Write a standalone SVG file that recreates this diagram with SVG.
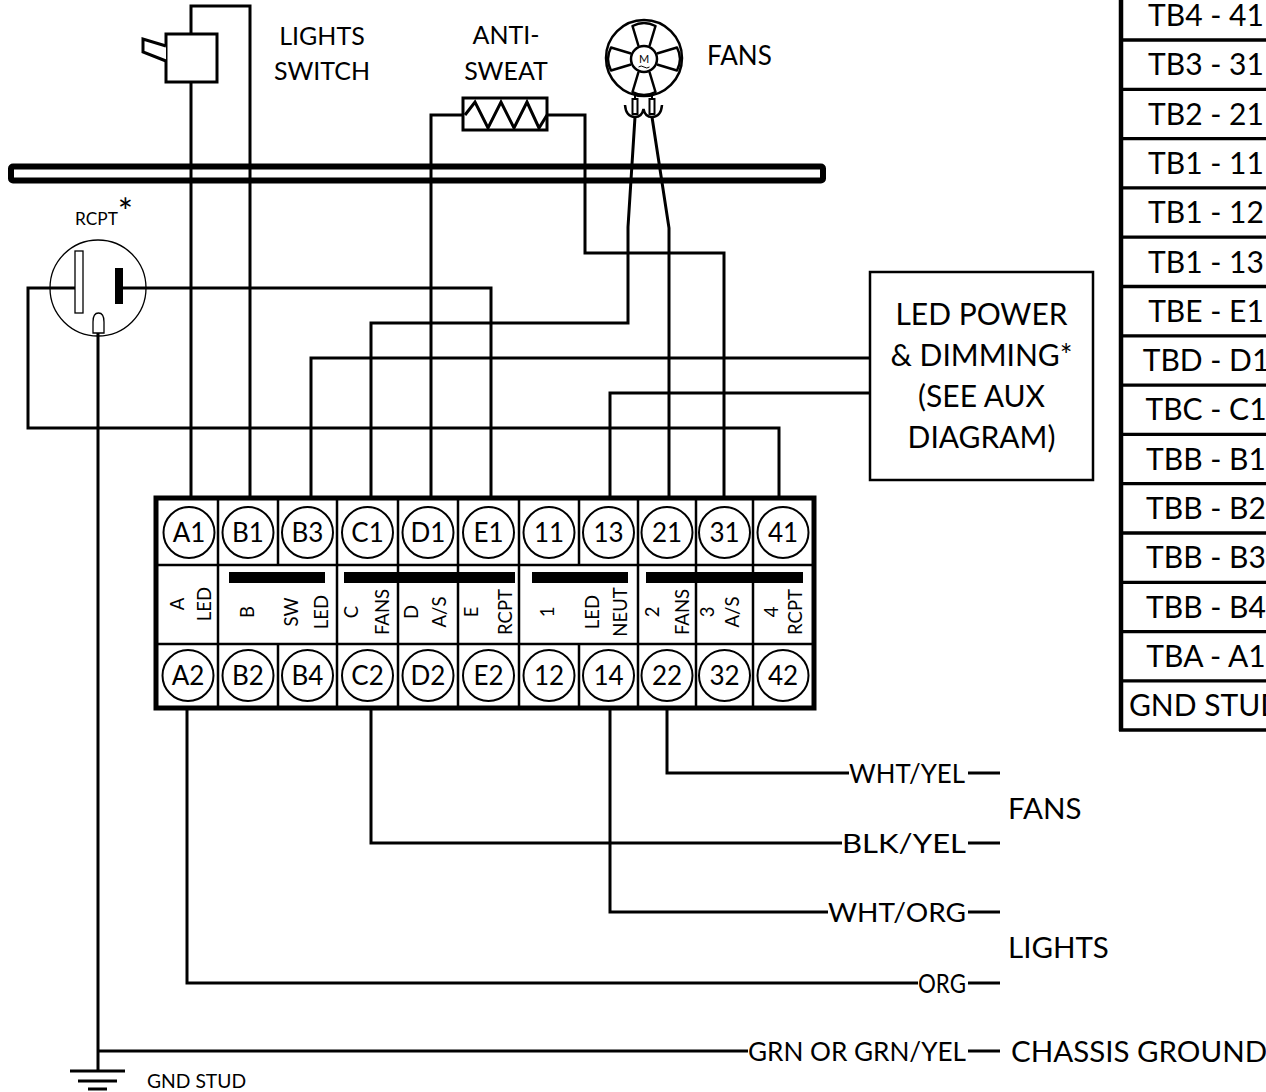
<svg xmlns="http://www.w3.org/2000/svg" xmlns:xlink="http://www.w3.org/1999/xlink" width="1266" height="1092" viewBox="0 0 1266 1092">
<style>
  text { font-family: Lato, "Open Sans", sans-serif; fill: #000; }
  .w { fill: none; stroke: #000; stroke-width: 3; stroke-linejoin: miter; stroke-linecap: butt; }
  .k { stroke: #000; stroke-width: 3; fill: #fff; }
  .thin { stroke: #000; stroke-width: 1.3; fill: none; }
  .cell { fill: none; stroke: #000; stroke-width: 2.5; }
  .term { fill: none; stroke: #000; stroke-width: 2; }
  .tl { font-size: 26px; text-anchor: middle; }
  .mid { font-size: 18.5px; text-anchor: middle; }
  .lab25 { font-size: 25px; text-anchor: middle; }
  .wire { font-size: 26.5px; }
  .big { font-size: 29.5px; }
  .tab { font-size: 30px; text-anchor: middle; }
  .box { font-size: 30px; text-anchor: middle; }
</style>
<defs>
  <path id="blade" d="M-5.5,-13 L-11.5,-33 Q0,-39 11.5,-33 L5.5,-13" fill="#fff" stroke="#000" stroke-width="2.5" stroke-linejoin="round"/>
</defs>

<g id="rail">
  <rect x="11" y="166.5" width="812" height="14" rx="2" fill="#fff" stroke="#000" stroke-width="6"/>
</g>

<g id="connectors">
  <path class="w" d="M191,498 V82"/>
  <path class="w" d="M250,498 V6 H191 V34"/>
  <path class="w" d="M311,498 V358 H870"/>
  <path class="w" d="M371,498 V323 H628 V227 L635,117"/>
  <path class="w" d="M431,498 V115 H463"/>
  <path class="w" d="M491,498 V288 H123"/>
  <path class="w" d="M610,498 V393 H870"/>
  <path class="w" d="M669,498 V228 L652,117"/>
  <path class="w" d="M724,498 V253 H585 V115 H547"/>
  <path class="w" d="M779,498 V428 H28 V288 H75"/>
  <path class="w" d="M187,708 V983 H918"/>
  <path class="w" d="M371,708 V843 H842"/>
  <path class="w" d="M610,708 V912 H828"/>
  <path class="w" d="M667,708 V773 H849"/>
  <path class="w" d="M98,333 V1071"/>
  <path class="w" d="M98,1051 H748"/>
  <path class="w" d="M968,773 H1000 M968,843 H1000 M968,912 H1000 M968,983 H1000 M968,1051 H1000"/>
</g>

<g id="lights-switch">
  <rect class="k" x="166" y="34" width="51" height="48"/>
  <path d="M166,46 L143,39 L143,52 L166,61" fill="#fff" stroke="#000" stroke-width="3" stroke-linejoin="miter"/>
  <text class="lab25" x="322" y="45">LIGHTS</text>
  <text class="lab25" x="322" y="80">SWITCH</text>
</g>

<g id="anti-sweat">
  <rect class="k" x="463" y="98" width="84" height="32"/>
  <path d="M465,115 L475,102 L488,128 L501,102 L514,128 L527,102 L539,128 L547,115" fill="none" stroke="#000" stroke-width="3" stroke-linejoin="miter"/>
  <text class="lab25" x="506" y="44">ANTI-</text>
  <text class="lab25" x="506" y="80">SWEAT</text>
</g>

<g id="fan">
  <circle cx="644" cy="58" r="38" fill="#fff" stroke="#000" stroke-width="2.5"/>
  <use xlink:href="#blade" href="#blade" transform="translate(644,59)"/>
  <use xlink:href="#blade" href="#blade" transform="translate(644,59) rotate(90)"/>
  <use xlink:href="#blade" href="#blade" transform="translate(644,59) rotate(180)"/>
  <use xlink:href="#blade" href="#blade" transform="translate(644,59) rotate(270)"/>
  <circle cx="644" cy="59" r="13" fill="#fff" stroke="#000" stroke-width="2.5"/>
  <text x="644" y="63" font-size="11" text-anchor="middle">M</text>
  <path d="M638.5,67 q2.7,-2 5.5,0 t5.5,0" fill="none" stroke="#000" stroke-width="1"/>
  <path d="M635,93 V99 M652,93 V99" stroke="#000" stroke-width="2" fill="none"/>
  <rect x="632.5" y="99" width="5" height="15" fill="#fff" stroke="#000" stroke-width="2"/>
  <rect x="649.5" y="99" width="5" height="15" fill="#fff" stroke="#000" stroke-width="2"/>
  <path d="M625,105 Q626,117 635,117 Q642,117 643.5,109 Q645,117 652,117 Q661,117 662,105" fill="none" stroke="#000" stroke-width="2.5"/>
  <text x="707" y="65" font-size="26">FANS</text>
</g>

<g id="rcpt">
  <circle class="thin" cx="98" cy="288" r="48"/>
  <rect x="75" y="251" width="8" height="62" fill="#fff" stroke="#000" stroke-width="1.3"/>
  <rect x="115" y="268" width="8" height="36" fill="#000"/>
  <path d="M93,333 V322 Q93,313 98.5,313 Q104,313 104,322 V333 Z" fill="#fff" stroke="#000" stroke-width="1.3"/>
  <text x="75" y="225" font-size="17.3">RCPT<tspan font-size="36">*</tspan></text>
</g>

<g id="led-power">
  <rect x="870" y="272" width="223" height="208" fill="#fff" stroke="#000" stroke-width="2.5"/>
  <text class="box" x="981.5" y="325">LED POWER</text>
  <text class="box" x="981.5" y="366">&amp; DIMMING*</text>
  <text class="box" x="981.5" y="407">(SEE AUX</text>
  <text class="box" x="981.5" y="448">DIAGRAM)</text>
</g>

<g id="terminal-block">
  <rect x="156" y="498" width="658" height="210" fill="#fff" stroke="#000" stroke-width="5"/>
  <path class="cell" d="M156,565 H814 M156,644 H814 M218,498 V708 M278,498 V565 M278,644 V708 M337,498 V708 M398,498 V708 M458,498 V708 M519,498 V708 M579,498 V565 M579,644 V708 M638,498 V708 M696,498 V708 M753,498 V708"/>
  <g class="term">
    <circle cx="189" cy="532.5" r="25.5"/><circle cx="248" cy="532.5" r="25.5"/><circle cx="307.5" cy="532.5" r="25.5"/><circle cx="367.5" cy="532.5" r="25.5"/><circle cx="428" cy="532.5" r="25.5"/><circle cx="488.5" cy="532.5" r="25.5"/><circle cx="549" cy="532.5" r="25.5"/><circle cx="608.5" cy="532.5" r="25.5"/><circle cx="667" cy="532.5" r="25.5"/><circle cx="724.5" cy="532.5" r="25.5"/><circle cx="783" cy="532.5" r="25.5"/>
    <circle cx="188" cy="675.5" r="25.5"/><circle cx="248" cy="675.5" r="25.5"/><circle cx="307.5" cy="675.5" r="25.5"/><circle cx="367.5" cy="675.5" r="25.5"/><circle cx="428" cy="675.5" r="25.5"/><circle cx="488.5" cy="675.5" r="25.5"/><circle cx="549" cy="675.5" r="25.5"/><circle cx="608.5" cy="675.5" r="25.5"/><circle cx="667" cy="675.5" r="25.5"/><circle cx="724.5" cy="675.5" r="25.5"/><circle cx="783" cy="675.5" r="25.5"/>
  </g>
  <g class="tl">
    <text x="189" y="542">A1</text><text x="248" y="542">B1</text><text x="307.5" y="542">B3</text><text x="367.5" y="542">C1</text><text x="428" y="542">D1</text><text x="488.5" y="542">E1</text><text x="549" y="542">11</text><text x="608.5" y="542">13</text><text x="667" y="542">21</text><text x="724.5" y="542">31</text><text x="783" y="542">41</text>
    <text x="188" y="685">A2</text><text x="248" y="685">B2</text><text x="307.5" y="685">B4</text><text x="367.5" y="685">C2</text><text x="428" y="685">D2</text><text x="488.5" y="685">E2</text><text x="549" y="685">12</text><text x="608.5" y="685">14</text><text x="667" y="685">22</text><text x="724.5" y="685">32</text><text x="783" y="685">42</text>
  </g>
  <rect x="229" y="572" width="96" height="11" fill="#000"/>
  <rect x="344" y="572" width="171" height="11" fill="#000"/>
  <rect x="532" y="572" width="96" height="11" fill="#000"/>
  <rect x="646" y="572" width="157" height="11" fill="#000"/>
  <g class="mid">
    <text transform="translate(184,604) rotate(-90)">A</text>
    <text transform="translate(211,604) rotate(-90)">LED</text>
    <text transform="translate(254,612) rotate(-90)">B</text>
    <text transform="translate(298,612) rotate(-90)">SW</text>
    <text transform="translate(328,612) rotate(-90)">LED</text>
    <text transform="translate(358,612) rotate(-90)">C</text>
    <text transform="translate(389,612) rotate(-90)">FANS</text>
    <text transform="translate(418,612) rotate(-90)">D</text>
    <text transform="translate(446,612) rotate(-90)">A/S</text>
    <text transform="translate(478,612) rotate(-90)">E</text>
    <text transform="translate(512,612) rotate(-90)">RCPT</text>
    <text transform="translate(554,612) rotate(-90)">1</text>
    <text transform="translate(599,612) rotate(-90)">LED</text>
    <text transform="translate(627,612) rotate(-90)">NEUT</text>
    <text transform="translate(659,612) rotate(-90)">2</text>
    <text transform="translate(689,612) rotate(-90)">FANS</text>
    <text transform="translate(714,612) rotate(-90)">3</text>
    <text transform="translate(739,612) rotate(-90)">A/S</text>
    <text transform="translate(778,612) rotate(-90)">4</text>
    <text transform="translate(802,612) rotate(-90)">RCPT</text>
  </g>
</g>

<g id="table">
  <path d="M1121,0 V731" stroke="#000" stroke-width="4.5" fill="none"/>
  <path d="M1119,40 H1266 M1119,89.3 H1266 M1119,138.6 H1266 M1119,187.9 H1266 M1119,237.2 H1266 M1119,286.5 H1266 M1119,335.8 H1266 M1119,385.1 H1266 M1119,434.4 H1266 M1119,483.7 H1266 M1119,533 H1266 M1119,582.3 H1266 M1119,631.6 H1266 M1119,680.9 H1266 M1119,730 H1266" stroke="#000" stroke-width="3.3" fill="none"/>
  <g class="tab">
    <text x="1206" y="26">TB4 - 41</text>
    <text x="1206" y="75.3">TB3 - 31</text>
    <text x="1206" y="124.6">TB2 - 21</text>
    <text x="1206" y="173.9">TB1 - 11</text>
    <text x="1206" y="223.2">TB1 - 12</text>
    <text x="1206" y="272.5">TB1 - 13</text>
    <text x="1206" y="321.8">TBE - E1</text>
    <text x="1206" y="371.1">TBD - D1</text>
    <text x="1206" y="420.4">TBC - C1</text>
    <text x="1206" y="469.7">TBB - B1</text>
    <text x="1206" y="519">TBB - B2</text>
    <text x="1206" y="568.3">TBB - B3</text>
    <text x="1206" y="617.6">TBB - B4</text>
    <text x="1206" y="666.9">TBA - A1</text>
    <text x="1206" y="716">GND STUD</text>
  </g>
</g>

<g id="harness-labels">
  <text class="wire" x="849" y="782.5" textLength="116" lengthAdjust="spacingAndGlyphs">WHT/YEL</text>
  <text class="wire" x="842" y="852.5" textLength="124" lengthAdjust="spacingAndGlyphs">BLK/YEL</text>
  <text class="wire" x="828" y="921.5" textLength="138" lengthAdjust="spacingAndGlyphs">WHT/ORG</text>
  <text class="wire" x="918" y="992.5" textLength="48" lengthAdjust="spacingAndGlyphs">ORG</text>
  <text class="wire" x="748" y="1060.5" textLength="218" lengthAdjust="spacingAndGlyphs">GRN OR GRN/YEL</text>
  <text class="big" x="1008" y="819">FANS</text>
  <text class="big" x="1008" y="958">LIGHTS</text>
  <text class="big" x="1011" y="1062">CHASSIS GROUND</text>
</g>

<g id="ground">
  <path d="M70,1071 H125 M78,1081 H117 M88,1089 H107" stroke="#000" stroke-width="3" fill="none"/>
  <text x="147" y="1088" font-size="19.3">GND STUD</text>
</g>
</svg>
